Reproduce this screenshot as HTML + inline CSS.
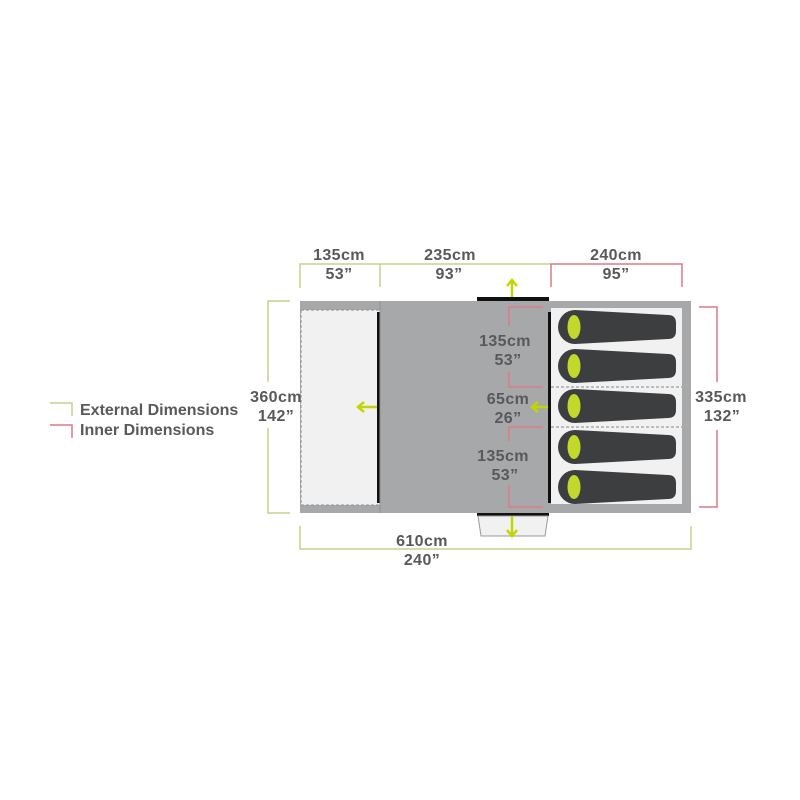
<!DOCTYPE html>
<html><head><meta charset="utf-8"><style>body{margin:0;background:#fff}svg{display:block}</style></head><body>
<svg width="800" height="800" viewBox="0 0 800 800" xmlns="http://www.w3.org/2000/svg" font-family="Liberation Sans, sans-serif" font-weight="bold" font-size="16" fill="#58595b">
<rect width="800" height="800" fill="#fff"/>
<rect x="300" y="301" width="391" height="212" fill="#a7a8aa"/>
<rect x="301" y="310" width="79" height="195" fill="#f1f1f1" stroke="#8e8f91" stroke-width="1" stroke-dasharray="3,2"/>
<rect x="377" y="312" width="3" height="191" fill="#111"/>
<line x1="380" y1="301" x2="380" y2="513" stroke="#8e8f91" stroke-width="1"/>
<rect x="551" y="308" width="131" height="196" fill="#f1f1f1"/>
<rect x="548" y="312" width="3" height="191" fill="#111"/>
<line x1="551" y1="387" x2="682" y2="387" stroke="#888" stroke-dasharray="3,2"/>
<line x1="551" y1="427" x2="682" y2="427" stroke="#888" stroke-dasharray="3,2"/>
<rect x="477" y="297" width="72" height="4" fill="#111"/>
<rect x="477" y="513" width="72" height="3" fill="#111"/>
<polygon points="478,516 548,516 545,536 481,536" fill="#f1f1f1" stroke="#999" stroke-width="1"/>
<g stroke="#c2d500" stroke-width="2.5" fill="none">
<line x1="512" y1="297" x2="512" y2="281"/><polyline points="507,286 512,280 517,286"/>
<line x1="512" y1="516" x2="512" y2="535"/><polyline points="507,530 512,536 517,530"/>
<line x1="377" y1="407" x2="359" y2="407"/><polyline points="364,402 358,407 364,412"/>
<line x1="548" y1="407" x2="533" y2="407"/><polyline points="538,402 532,407 538,412"/>
</g>
<g>
<g transform="translate(0,327)"><path d="M575,-17 L668,-12 Q676,-12 676,-4 L676,4 Q676,12 668,12 L575,17 A17,17 0 0 1 575,-17 Z" fill="#3d3e40"/><ellipse cx="574" cy="0" rx="6.5" ry="12" fill="#c2d82a"/></g>
<g transform="translate(0,366)"><path d="M575,-17 L668,-12 Q676,-12 676,-4 L676,4 Q676,12 668,12 L575,17 A17,17 0 0 1 575,-17 Z" fill="#3d3e40"/><ellipse cx="574" cy="0" rx="6.5" ry="12" fill="#c2d82a"/></g>
<g transform="translate(0,406)"><path d="M575,-17 L668,-12 Q676,-12 676,-4 L676,4 Q676,12 668,12 L575,17 A17,17 0 0 1 575,-17 Z" fill="#3d3e40"/><ellipse cx="574" cy="0" rx="6.5" ry="12" fill="#c2d82a"/></g>
<g transform="translate(0,447)"><path d="M575,-17 L668,-12 Q676,-12 676,-4 L676,4 Q676,12 668,12 L575,17 A17,17 0 0 1 575,-17 Z" fill="#3d3e40"/><ellipse cx="574" cy="0" rx="6.5" ry="12" fill="#c2d82a"/></g>
<g transform="translate(0,487)"><path d="M575,-17 L668,-12 Q676,-12 676,-4 L676,4 Q676,12 668,12 L575,17 A17,17 0 0 1 575,-17 Z" fill="#3d3e40"/><ellipse cx="574" cy="0" rx="6.5" ry="12" fill="#c2d82a"/></g>
</g>
<g fill="none" stroke-width="1.5">
<polyline points="300,288 300,264 551,264" stroke="#c5d08a"/>
<line x1="380" y1="264" x2="380" y2="287" stroke="#c5d08a"/>
<polyline points="551,287 551,264 682,264 682,287" stroke="#de7a84"/>
<polyline points="290,301 268,301 268,382" stroke="#c5d08a"/>
<polyline points="268,428 268,513 290,513" stroke="#c5d08a"/>
<polyline points="699,307 717,307 717,382" stroke="#de7a84"/>
<polyline points="717,430 717,507 699,507" stroke="#de7a84"/>
<polyline points="300,526 300,549 691,549 691,526" stroke="#c5d08a"/>
<polyline points="543,307 509,307 509,326" stroke="#de7a84"/>
<polyline points="509,372 509,387 543,387" stroke="#de7a84"/>
<polyline points="543,427 509,427 509,441" stroke="#de7a84"/>
<polyline points="509,485 509,507 543,507" stroke="#de7a84"/>
<polyline points="50,403 72,403 72,416" stroke="#c5d08a"/>
<polyline points="50,425 72,425 72,438" stroke="#de7a84"/>
</g>
<g text-anchor="middle" letter-spacing="0.4">
<text x="339" y="260">135cm</text><text x="339" y="279">53”</text>
<text x="450" y="260">235cm</text><text x="449" y="279">93”</text>
<text x="616" y="260">240cm</text><text x="616" y="279">95”</text>
<text x="276" y="402">360cm</text><text x="276" y="421">142”</text>
<text x="721" y="402">335cm</text><text x="722" y="421">132”</text>
<text x="422" y="546">610cm</text><text x="422" y="565">240”</text>
<text x="505" y="346">135cm</text><text x="508" y="365">53”</text>
<text x="508" y="404">65cm</text><text x="508" y="423">26”</text>
<text x="503" y="461">135cm</text><text x="505" y="480">53”</text>
</g>
<text x="80" y="415">External Dimensions</text>
<text x="80" y="435">Inner Dimensions</text>
</svg>
</body></html>
